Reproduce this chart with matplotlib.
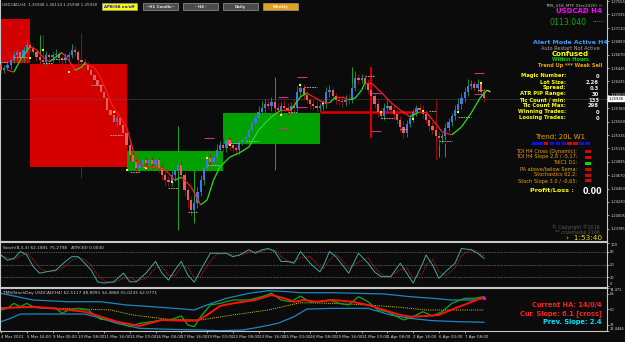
import numpy as np
import matplotlib.pyplot as plt
from matplotlib.patches import Rectangle
from matplotlib.collections import LineCollection

W, H = 625, 342
BG = '#0b0b0b'

# ---- USDCAD H4 candles ----
first_open = 1.2650
closes = [
    1.2641, 1.2645, 1.2650, 1.2658, 1.2666, 1.2671, 1.2661, 1.2675, 1.2683, 1.2678,
    1.2671, 1.2663, 1.2658, 1.2655, 1.2666, 1.2663, 1.2666, 1.2668, 1.2661, 1.2658,
    1.2663, 1.2666, 1.2675, 1.2671, 1.2658, 1.2655, 1.2650, 1.2641, 1.2633, 1.2625,
    1.2617, 1.2605, 1.2595, 1.2575, 1.2567, 1.2555, 1.2562, 1.2550, 1.2537, 1.2517,
    1.2501, 1.2489, 1.2479, 1.2484, 1.2492, 1.2487, 1.2492, 1.2486, 1.2492, 1.2479,
    1.2467, 1.2459, 1.2456, 1.2467, 1.2476, 1.2484, 1.2467, 1.2443, 1.2426, 1.2409,
    1.2421, 1.2439, 1.2459, 1.2479, 1.2496, 1.2489, 1.2496, 1.2509, 1.2517, 1.2512,
    1.2525, 1.2517, 1.2512, 1.2509, 1.2522, 1.2525, 1.2530, 1.2542, 1.2554, 1.2562,
    1.2572, 1.2578, 1.2585, 1.2582, 1.2588, 1.2578, 1.2575, 1.2582, 1.2578, 1.2575,
    1.2582, 1.2578, 1.2605, 1.2612, 1.2600, 1.2592, 1.2585, 1.2582, 1.2578, 1.2582,
    1.2585, 1.2605, 1.2608, 1.2598, 1.2592, 1.2590, 1.2588, 1.2592, 1.2591, 1.2612,
    1.2628, 1.2625, 1.2628, 1.2618, 1.2608, 1.2598, 1.2585, 1.2572, 1.2565, 1.2578,
    1.2582, 1.2575, 1.2569, 1.2559, 1.2547, 1.2537, 1.2552, 1.2562, 1.2572, 1.2578,
    1.2575, 1.2569, 1.2559, 1.2549, 1.2542, 1.2532, 1.2529, 1.2532, 1.2545, 1.2555,
    1.2565, 1.2575, 1.2585, 1.2595, 1.2605, 1.2615, 1.2618, 1.2612, 1.2618, 1.2605,
    1.2595,
]
# wick lengths in pips above / below the body
wick_up = [
    5, 4, 6, 3, 7, 5, 9, 4, 8, 5,
    6, 4, 5, 8, 7, 4, 6, 8, 5, 4,
    6, 5, 9, 6, 4, 5, 7, 4, 5, 6,
    4, 5, 6, 5, 4, 7, 5, 6, 4, 5,
    6, 8, 5, 7, 6, 4, 9, 5, 6, 4,
    5, 7, 6, 10, 8, 12, 6, 5, 4, 6,
    7, 8, 9, 7, 10, 6, 8, 9, 7, 12,
    8, 6, 5, 7, 9, 6, 8, 7, 6, 9,
    10, 12, 8, 7, 9, 6, 8, 7, 10, 9,
    6, 12, 10, 8, 6, 7, 5, 6, 8, 5,
    7, 9, 8, 6, 5, 7, 6, 8, 9, 10,
    12, 6, 7, 5, 8, 6, 5, 7, 6, 8,
    9, 5, 6, 8, 7, 10, 6, 7, 5, 6,
    8, 9, 6, 5, 7, 6, 8, 5, 9, 7,
    6, 8, 10, 9, 8, 11, 7, 6, 8, 5,
    7,
]
wick_dn = [
    6, 5, 4, 7, 5, 8, 4, 6, 5, 7,
    5, 6, 7, 4, 6, 5, 8, 4, 6, 7,
    5, 7, 4, 6, 8, 5, 6, 7, 5, 6,
    7, 6, 8, 5, 9, 6, 7, 8, 10, 9,
    11, 8, 9, 7, 6, 8, 5, 7, 6, 9,
    8, 10, 7, 6, 9, 5, 8, 11, 12, 10,
    7, 9, 6, 8, 5, 7, 6, 8, 5, 7,
    6, 8, 7, 9, 6, 5, 7, 6, 8, 5,
    6, 5, 7, 6, 8, 10, 7, 6, 5, 8,
    7, 6, 5, 8, 7, 6, 9, 7, 6, 5,
    7, 6, 8, 5, 7, 6, 8, 7, 6, 5,
    6, 7, 5, 8, 6, 9, 7, 8, 6, 7,
    5, 6, 8, 7, 9, 8, 6, 5, 7, 6,
    5, 7, 6, 8, 7, 10, 12, 8, 6, 5,
    7, 6, 5, 8, 6, 7, 5, 6, 7, 8,
    6,
]
assert len(closes) == len(wick_up) == len(wick_dn) == 151

# long spikes from the MTF overlay
spike_idx = [6, 12, 13, 25, 55, 60, 85, 109, 135, 136, 138]
spike_hi = [1.2711, 1.2699, 1.2699, 1.2703, 1.2549, 1.2476, 1.2630, 1.2646, 1.2592, 1.2525, 1.2520]
spike_lo = [1.2670, 1.2641, 1.2650, 1.2462, 1.2376, 1.2388, 1.2476, 1.2620, 1.2492, 1.2497, 1.2497]
spike_up = [True, True, False, False, True, True, True, True, False, True, True]

# weekly zones
zone_start = [-1, 9, 39, 69]
zone_end = [9, 39, 69, 99]
zone_top = [1.2726, 1.2651, 1.2507, 1.2570]
zone_bot = [1.2653, 1.2481, 1.2474, 1.2519]
zone_bull = [False, False, True, True]

# trend MA
ma_idx = [2, 4, 6, 9, 11, 13, 15, 17, 19, 21, 23, 25, 26, 29, 31, 33, 35, 37, 39, 41,
          43, 45, 47, 51, 54, 56, 59, 62, 64, 66, 68, 71, 74, 77, 80, 84, 87, 90, 93, 95,
          97, 100, 102, 104, 106, 108, 110, 112, 113, 115, 118, 121, 124, 127, 130, 132, 134, 137, 140, 143,
          146, 149, 151, 152]
ma_val = [1.2641, 1.2638, 1.2658, 1.2680, 1.2675, 1.2663, 1.2655, 1.2663, 1.2670, 1.2658,
          1.2641, 1.2646, 1.2653, 1.2645, 1.2628, 1.2603, 1.2578, 1.2564, 1.2547, 1.2509,
          1.2487, 1.2481, 1.2481, 1.2476, 1.2459, 1.2464, 1.2448, 1.2418, 1.2426, 1.2459,
          1.2481, 1.2497, 1.2504, 1.2514, 1.2542, 1.2564, 1.2575, 1.2575, 1.2597, 1.2603,
          1.2597, 1.2588, 1.2587, 1.2597, 1.2597, 1.2592, 1.2595, 1.2608, 1.2620, 1.2620,
          1.2605, 1.2588, 1.2575, 1.2564, 1.2572, 1.2572, 1.2559, 1.2539, 1.2534, 1.2547,
          1.2570, 1.2597, 1.2608, 1.2605]

# short pivot marks: (start bar, end bar, price)
piv_start = [0, 4, 13, 16, 28, 34, 40, 44, 52, 58, 64, 71, 76, 89, 94, 113, 118, 124, 133, 136, 142, 148]
piv_end = [2, 8, 16, 20, 32, 38, 43, 48, 55, 61, 68, 74, 80, 92, 98, 116, 122, 126, 135, 140, 146, 151]
piv_price = [1.2655, 1.2663, 1.2653, 1.2660, 1.2617, 1.2534, 1.2472, 1.2481, 1.2446, 1.2406, 1.2484,
             1.2520, 1.2524, 1.2572, 1.2613, 1.2631, 1.2562, 1.2544, 1.2573, 1.2524, 1.2564, 1.2608]
box_start = [63, 86, 86, 92, 92, 115, 115, 147, 147]
box_end = [66, 89, 89, 95, 95, 118, 118, 150, 150]
box_price = [1.2529, 1.2597, 1.2545, 1.2630, 1.2580, 1.2603, 1.2540, 1.2636, 1.2602]
dot_idx = [9, 13, 21, 35, 39, 45, 53, 64, 71, 87, 93, 100, 118, 128, 131, 142, 149]
dot_price = [1.2661, 1.2675, 1.2638, 1.2572, 1.2476, 1.2479, 1.2456, 1.2496, 1.2517, 1.2567,
             1.2617, 1.2587, 1.2572, 1.2560, 1.2573, 1.2572, 1.2620]

level_price = 1.2572          # red horizontal level
level_span = (99, 129)
signal_bar, signal_hi, signal_lo = 115, 1.2646, 1.2529
bid = 1.25938

price_ticks = [1.27555, 1.27335, 1.27110, 1.26890, 1.26670, 1.26445, 1.26225, 1.26000, 1.25780,
               1.25560, 1.25335, 1.25115, 1.24895, 1.24670, 1.24450, 1.24230, 1.24005, 1.23785]

# ---- stochastic ----
st_idx = [0, 2, 4, 6, 8, 10, 12, 14, 17, 20, 22, 24, 26, 28, 30, 32, 35, 38, 40, 42,
          45, 48, 50, 52, 54, 56, 58, 60, 62, 65, 67, 70, 72, 74, 77, 79, 81, 83, 85, 87,
          89, 91, 93, 96, 99, 100, 102, 104, 106, 108, 111, 114, 116, 118, 121, 124, 126, 128, 131, 132,
          134, 136, 138, 141, 143, 146, 148, 150]
st_main = [72, 60, 64, 80, 72, 45, 30, 33, 37, 57, 68, 68, 53, 37, 10, 7, 10, 30, 10, 10,
           30, 57, 30, 14, 37, 57, 26, 9, 37, 76, 76, 76, 68, 72, 84, 76, 84, 87, 80, 57,
           57, 53, 80, 53, 33, 45, 80, 68, 49, 30, 76, 53, 33, 22, 22, 53, 30, 7, 53, 72,
           49, 18, 33, 53, 87, 84, 76, 64]
st_signal = [70, 66, 62, 70, 76, 62, 42, 34, 35, 46, 60, 66, 62, 48, 25, 12, 8, 18, 20, 12,
             18, 42, 45, 25, 24, 45, 44, 20, 22, 58, 74, 76, 72, 70, 78, 80, 80, 85, 84, 68,
             58, 56, 66, 68, 44, 40, 60, 74, 60, 40, 56, 66, 44, 28, 22, 38, 42, 18, 30, 50,
             62, 34, 24, 42, 70, 86, 80, 70]
assert len(st_idx) == len(st_main) == len(st_signal)

# ---- TDI ----
up_idx = [0, 5, 10, 21, 31, 39, 47, 54, 60, 64, 70, 77, 83, 89, 93, 103, 119, 127, 134, 140, 147, 150]
up_band = [68.3, 64.4, 60.5, 58.5, 58.5, 54.7, 52.7, 50.8, 48.9, 54.7, 62.5, 68.3, 71.3, 70.2, 69.0,
           69.0, 67.5, 64.4, 62.5, 60.5, 60.5, 62.5]
lo_idx = [0, 3, 6, 16, 26, 31, 36, 43, 52, 62, 68, 75, 81, 86, 91, 95, 103, 114, 121, 127, 134, 142, 150]
lo_band = [35.3, 39.2, 44.2, 44.2, 44.2, 39.2, 33.4, 27.6, 26.4, 25.6, 24.8, 25.6, 29.5, 33.4, 41.1,
           50.0, 50.8, 50.8, 43.1, 39.2, 36.5, 35.3, 34.6]
base_idx = [0, 10, 26, 34, 41, 52, 62, 72, 83, 93, 103, 114, 124, 132, 140, 150]
base_line = [51.6, 51.6, 50.0, 48.9, 43.1, 38.0, 37.3, 43.1, 48.9, 57.4, 56.6, 54.7, 52.0, 48.9, 48.9, 48.9]
rsi_idx = [0, 2, 4, 6, 8, 10, 13, 17, 19, 21, 24, 27, 29, 31, 34, 37, 40, 43, 47, 50,
           53, 56, 58, 60, 62, 65, 68, 72, 77, 81, 84, 87, 90, 93, 96, 99, 102, 105, 108, 111,
           114, 117, 120, 123, 125, 128, 131, 134, 137, 140, 144, 147, 150]
rsi_line = [48.9, 50.8, 56.6, 52.7, 56.6, 52.7, 50.8, 50.8, 45.0, 48.9, 50.8, 48.9, 43.1, 38.0, 37.3,
            34.2, 29.5, 33.4, 35.3, 37.3, 38.0, 41.9, 31.4, 29.5, 41.1, 54.7, 56.6, 60.5, 60.5, 64.4,
            68.3, 60.5, 58.5, 65.0, 58.0, 58.5, 60.5, 56.6, 54.7, 64.4, 58.5, 48.9, 46.9, 41.1, 37.3,
            41.1, 46.9, 41.9, 46.9, 56.6, 62.5, 62.5, 64.4]
sig_idx = [0, 5, 10, 16, 21, 26, 31, 36, 43, 50, 56, 61, 64, 68, 72, 79, 84, 88, 91, 94,
           98, 103, 109, 114, 119, 124, 127, 132, 136, 141, 145, 149, 150]
sig_line = [50.8, 52.0, 52.7, 50.8, 48.9, 46.9, 41.1, 35.3, 30.3, 37.3, 36.5, 36.5, 43.1, 53.5, 56.6,
            60.5, 66.3, 62.5, 58.5, 60.5, 58.5, 60.5, 58.5, 54.7, 48.9, 43.1, 41.1, 41.9, 43.1, 50.8,
            56.6, 62.5, 62.5]
assert len(rsi_idx) == len(rsi_line) and len(sig_idx) == len(sig_line)

xtick_labels = ['4 Mar 2021', '5 Mar 16:00', '9 Mar 00:00', '10 Mar 08:00', '11 Mar 16:00',
                '15 Mar 00:00', '16 Mar 08:00', '17 Mar 16:00', '19 Mar 00:00', '22 Mar 08:00',
                '23 Mar 16:00', '25 Mar 00:00', '26 Mar 08:00', '29 Mar 16:00', '31 Mar 00:00',
                '1 Apr 08:00', '2 Apr 16:00', '6 Apr 00:00', '7 Apr 08:00']
xtick_pos = np.arange(len(xtick_labels)) * 8

# ---- figure ----
fig = plt.figure(figsize=(W / 100, H / 100), dpi=100, facecolor=BG)


def rect(y_top, y_bot):
    return [0, 1 - y_bot / H, 607 / W, (y_bot - y_top) / H]


ax = fig.add_axes(rect(0, 241))
ax_st = fig.add_axes(rect(242, 287))
ax_td = fig.add_axes(rect(288, 331))
for a in (ax, ax_st, ax_td):
    a.set_facecolor(BG)
    for s in a.spines.values():
        s.set_color('#c8c8c8')
        s.set_linewidth(0.8)
    a.yaxis.tick_right()
    a.tick_params(axis='y', colors='#d8d8d8', labelsize=2.6, length=1.5, width=0.5, pad=0.8)
    a.set_xlim(-0.31, 188.2)
ax.spines['top'].set_visible(False)
ax.set_xticks([])
ax_st.set_xticks([])

# main price panel
closes = np.array(closes)
opens = np.r_[first_open, closes[:-1]]
idx = np.arange(len(closes))
up = closes >= opens
highs = np.maximum(opens, closes) + np.array(wick_up) * 1e-4
lows = np.minimum(opens, closes) - np.array(wick_dn) * 1e-4

for s, e, t, b, bull in zip(zone_start, zone_end, zone_top, zone_bot, zone_bull):
    ax.add_patch(Rectangle((s, b), e - s, t - b, color='#00a000' if bull else '#d40000',
                           lw=0, zorder=1))
ax.vlines(spike_idx, spike_lo, spike_hi, colors=['#1fa81f' if u else '#9a0c0c' for u in spike_up],
          lw=0.7, zorder=0.5)
ax.axhline(bid, color='#5a5a5a', alpha=0.5, lw=0.6, zorder=1.5)
ax.hlines(level_price, *level_span, color='#e00000', lw=1.8, zorder=2)
ax.vlines(signal_bar, signal_lo, signal_hi, color='#d00000', lw=1.6, zorder=2)

ax.vlines(idx, lows, highs, colors=np.where(up, '#1f9e1f', '#a51010'), lw=0.6, zorder=3)
ax.bar(idx, np.maximum(np.abs(closes - opens), 0.00004), bottom=np.minimum(opens, closes),
       width=0.7, color=np.where(up, '#3c78e6', '#ef5b5b'), lw=0, zorder=4)

ax.hlines(piv_price, piv_start, piv_end, colors='#b8b8b8', lw=0.6, linestyles=(0, (2, 1)), zorder=5)
ax.hlines(box_price, box_start, box_end, colors='#d0308a', lw=0.8, zorder=5)
ax.scatter(dot_idx, dot_price, s=1.2, marker='s', color='#ffff00', lw=0, zorder=6)

pts = np.column_stack([ma_idx, ma_val])
segs = np.stack([pts[:-1], pts[1:]], axis=1)
dv = np.diff(ma_val)
seg_cols = ['#ffd000' if i == len(dv) - 1 else ('#20e020' if d > 0 else '#ff1a1a') for i, d in enumerate(dv)]
ax.add_collection(LineCollection(segs, colors=seg_cols, lw=0.9, zorder=6))

ax.set_ylim(1.23581, 1.27574)
ax.set_yticks(price_ticks)
ax.set_yticklabels([f'{v:.5f}' for v in price_ticks])
ax.text(1.003, bid, f'{bid:.5f}', transform=ax.get_yaxis_transform(), fontsize=2.6, color='black',
        va='center', ha='left', bbox=dict(boxstyle='square,pad=0.12', fc='white', ec='white'),
        zorder=20)

# stochastic panel
ax_st.set_ylim(-2, 102)
for lv in (80, 50, 20):
    ax_st.axhline(lv, color='#9a9a9a', lw=0.5, ls=(0, (1, 1.5)))
ax_st.plot(st_idx, st_signal, color='#d02020', lw=0.7, ls=(0, (1, 1)))
ax_st.plot(st_idx, st_main, color='#3fa7a7', lw=0.7)
ax_st.set_yticks([100, 80, 50, 20, 0])
ax_st.set_yticklabels(['100', '80', '50', '20', '0'])
labs = ax_st.get_yticklabels()
labs[0].set_va('top')
labs[-1].set_va('bottom')
ax_st.text(0.005, 0.92, 'Stoch(8,3,3) 62.1891 75.2798   ATR(30) 0.0030', transform=ax_st.transAxes,
           fontsize=3.1, color='#cfcfcf', va='top')

# TDI panel
ax_td.set_ylim(24.4484, 74.471)
ax_td.plot(up_idx, up_band, color='#1b87c0', lw=0.9)
ax_td.plot(lo_idx, lo_band, color='#1b87c0', lw=0.9)
ax_td.plot(base_idx, base_line, color='#d8d000', lw=0.7, ls=(0, (1, 1.2)))
ax_td.plot(rsi_idx, rsi_line, color='#12a812', lw=0.9)
ax_td.plot(sig_idx, sig_line, color='#ff1010', lw=1.4)
ax_td.scatter([sig_idx[-1]], [sig_line[-1]], s=5, color='#ff00ff', zorder=5, lw=0)
ax_td.set_yticks([74.471, 68, 50, 32, 24.4484])
ax_td.set_yticklabels(['74.471', '68', '50', '32', '24.4484'])
labs = ax_td.get_yticklabels()
labs[0].set_va('top')
labs[-1].set_va('bottom')
ax_td.set_xticks(xtick_pos)
ax_td.set_xticklabels(xtick_labels, ha='left')
ax_td.tick_params(axis='x', colors='#d8d8d8', labelsize=2.9, length=1.5, width=0.5, pad=1.5)
ax_td.text(0.005, 0.93, 'TMS/StochDay USDCAD(H4) 62.5117 48.8993 34.4868 55.0235 62.0771',
           transform=ax_td.transAxes, fontsize=3.1, color='#cfcfcf', va='top')


# ---- overlay texts (pixel positions) ----
def ftext(x, y, s, **kw):
    kw.setdefault('va', 'center')
    fig.text(x / W, 1 - y / H, s, **kw)


def fbox(x0, y0, x1, y1, fc, ec='none'):
    fig.patches.append(Rectangle((x0 / W, 1 - y1 / H), (x1 - x0) / W, (y1 - y0) / H,
                                 transform=fig.transFigure, fc=fc, ec=ec, lw=0.5, zorder=10))


ftext(2, 4.5, 'USDCAD,H4  1.25948 1.26114 1.25938 1.25938', fontsize=2.9, color='#c8c8c8')

buttons = ['APB/HA on/off', '~H1 Candle~', '- H4 -', 'Daily', 'Weekly']
btn_x = [102, 143, 183, 223, 263]
for lab, x in zip(buttons, btn_x):
    if lab == 'APB/HA on/off':
        fc, tc = '#ffff00', '#1a1ad0'
    elif lab == 'Weekly':
        fc, tc = '#e0a020', '#fff2d0'
    else:
        fc, tc = '#4a4a4a', '#e0e0e0'
    fbox(x, 3, x + 35, 10, fc, '#9a9a9a')
    ftext(x + 17.5, 6.6, lab, fontsize=2.8, color=tc, ha='center', weight='bold', zorder=11)

ftext(603, 5, 'TMS_V18_MTF (Dec2020) ©', fontsize=3.0, color='#bdbdbd', ha='right')
ftext(602, 11, 'USDCAD H4', fontsize=5, color='#ff00ff', ha='right', weight='bold')
ftext(550, 22.5, '0113:040', fontsize=5.6, color='#00b000')
ftext(598, 19.5, '.....', fontsize=5, color='#e0a000', ha='center')

ftext(570, 43, 'Alert Mode Active H4', fontsize=4.5, color='#3a9cff', ha='center', weight='bold')
ftext(570, 48.5, 'Auto Restart Not Active', fontsize=3.6, color='#a8a8a8', ha='center')
ftext(570, 54.5, 'Confused', fontsize=5, color='#ffff00', ha='center', weight='bold')
ftext(570, 59.5, 'Within Hours', fontsize=3.6, color='#00d000', ha='center', weight='bold')
ftext(570, 65, 'Trend Up *** Weak Sell', fontsize=3.6, color='#f0a000', ha='center', weight='bold')

info_labels = ['Magic Number:', 'Lot Size:', 'Spread:', 'ATR PIP Range:', 'Tic Count / min:',
               'Tic Count Max:', 'Winning Trades:', 'Loosing Trades:']
info_values = ['0', '2.26', '0.3', '30', '133', '298', '0', '0']
for k, (lab, val) in enumerate(zip(info_labels, info_values)):
    y = 76 + 6 * k
    ftext(566, y, lab, fontsize=3.8, color='#ffff00', ha='right', weight='bold')
    ftext(599, y, val, fontsize=3.8, color='#f0f0f0', ha='right', weight='bold')

ftext(560, 137, 'Trend: 20L W1', fontsize=5, color='#f0a000', ha='center')
trend_bull = [True, True, False, True, True, True, False, False, True, True]
for k, b in enumerate(trend_bull):
    x = 532 + 5.9 * k
    fbox(x, 141.5, x + 4.6, 144.5, '#1010e0' if b else '#e00000')

tdi_labels = ['TDI H4 Cross (Dynamic):', 'TDI H4 Slope 2.8 / -5.17:', 'TdiC1 D1:',
              'PA above/below Sema:', 'Stochastics 62.2:', 'Stoch Slope 3.0 / -0.65:']
tdi_bull = [False, False, True, False, False, False]
for k, (lab, b) in enumerate(zip(tdi_labels, tdi_bull)):
    y = 151 + 6 * k
    ftext(577, y, lab, fontsize=3.6, color='#f0a000', ha='right')
    fbox(585, y - 1.5, 591, y + 1.5, '#00e000' if b else '#e00000')

ftext(552, 190, 'Profit/Loss :', fontsize=4.6, color='#ffff00', ha='center', weight='bold')
ftext(592, 191, '0.00', fontsize=5.8, color='#ffffff', ha='center', weight='bold')

ftext(600, 227, '© Copyright ®2016', fontsize=3.4, color='#5a5a5a', ha='right')
ftext(600, 232, '** cruxmodul 2166', fontsize=3.4, color='#5a5a5a', ha='right')
ftext(602, 237.5, '›  1:53:40', fontsize=5.3, color='#e0e000', ha='right')

ftext(602, 305, 'Current HA: 14/0/4', fontsize=4.8, color='#ff2020', ha='right', weight='bold')
ftext(602, 313.5, 'Cur. Slope: 6.1 [cross]', fontsize=4.8, color='#ff2020', ha='right', weight='bold')
ftext(602, 322, 'Prev. Slope: 2.4', fontsize=4.8, color='#00e5ff', ha='right', weight='bold')

fig.savefig('out.png', dpi=100, facecolor=BG)
